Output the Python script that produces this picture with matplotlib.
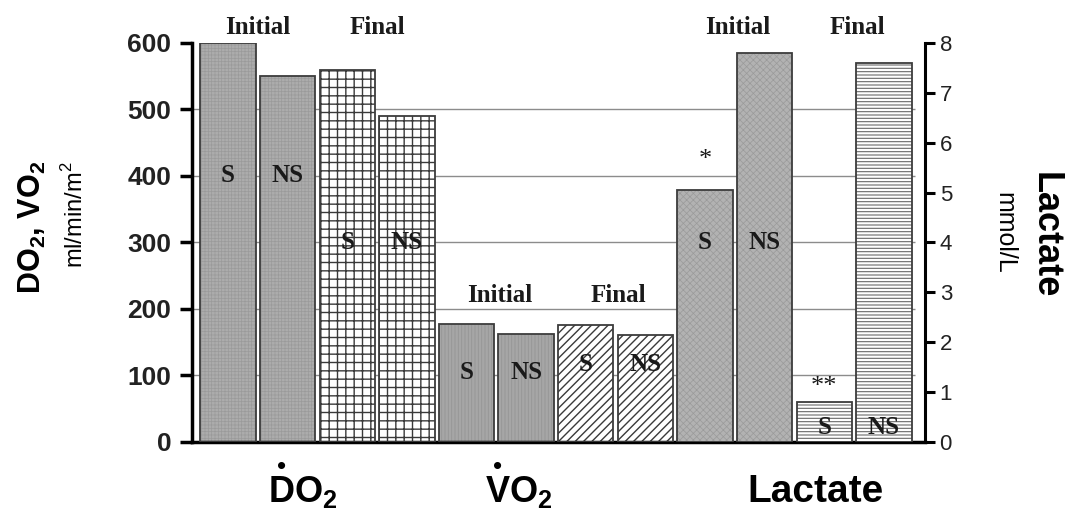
import matplotlib
matplotlib.use('Agg')
import matplotlib.pyplot as plt
from matplotlib.transforms import offset_copy
import numpy as np

plt.rcParams['font.family'] = 'Liberation Sans'
plt.rcParams['mathtext.fontset'] = 'custom'
plt.rcParams['mathtext.rm'] = 'Liberation Sans'
plt.rcParams['mathtext.bf'] = 'Liberation Sans:bold'

# values
# DO2 / VO2 on the left axis (ml/min/m2), lactate on the right axis (mmol/L)
# order in each: S initial, NS initial, S final, NS final
do2 = [600, 550, 560, 490]
vo2 = [177, 162, 176, 161]
lactate = [5.05, 7.8, 0.8, 7.6]
groups = ['S', 'NS', 'S', 'NS']
phases = ['Initial', 'Final']
stars = ['*', '', '**', '']

# where the in-bar labels sit (in each axis' own units)
do2_lab_y = [400, 400, 300, 300]
vo2_lab_y = [104, 104, 116, 116]
lac_lab_y = [4.0, 4.0, 0.3, 0.3]
star_y = [5.65, 0, 1.1, 0]
phase_y = [624, 220, 624]
phase_x_shift = [0.0, 0.05, 0.05]

x = np.arange(12)
xd, xv, xl = x[0:4], x[4:8], x[8:12]
W = 0.93

fig = plt.figure(figsize=(10.72, 5.23), dpi=100)
ax = fig.add_axes([0.1791, 0.1549, 0.6838, 0.7629])
ax.set_xlim(-0.604, 11.69)
ax.set_ylim(0, 600)
ax2 = ax.twinx()
ax2.set_ylim(0, 8)

# background reference lines
ax.hlines([100, 200, 300, 400, 500], ax.get_xlim()[0], x[-1] + 0.52,
          colors='#8c8c8c', lw=1.0, zorder=1)


def draw_bars(a, xs, hs, face, hatch, hcolor, hlw):
    plt.rcParams['hatch.linewidth'] = hlw
    a.bar(xs, hs, width=W, color=face, hatch=hatch, edgecolor=hcolor,
          linewidth=0, zorder=2)
    a.bar(xs, hs, width=W, fill=False, edgecolor='#3c3c3c', linewidth=1.3,
          zorder=3)


draw_bars(ax, xd[:2], do2[:2], '#acacac', '+++++', '#9a9a9a', 0.5)
draw_bars(ax, xd[2:], do2[2:], 'white', '++', '#3a3a3a', 1.0)
draw_bars(ax, xv[:2], vo2[:2], '#a6a6a6', '|||||', '#959595', 0.6)
draw_bars(ax, xv[2:], vo2[2:], 'white', '////', '#3a3a3a', 1.0)
draw_bars(ax2, xl[:2], lactate[:2], '#b2b2b2', 'xxxxx', '#9a9a9a', 0.5)
draw_bars(ax2, xl[2:], lactate[2:], 'white', '-----', '#6a6a6a', 0.8)

serif = dict(family='Liberation Serif', fontweight='bold', fontsize=18,
             ha='center', va='center', color='#1a1a1a', zorder=5)

for i in range(4):
    ax.text(xd[i], do2_lab_y[i], groups[i], **serif)
    ax.text(xv[i], vo2_lab_y[i], groups[i], **serif)
    ax2.text(xl[i], lac_lab_y[i], groups[i], **serif)
    if stars[i]:
        ax2.text(xl[i], star_y[i], stars[i], family='Liberation Serif',
                 fontsize=19, ha='center', va='center', color='#1a1a1a')

for k, xs in enumerate([xd, xv, xl]):
    for j, p in enumerate(phases):
        ax.text(xs[2 * j:2 * j + 2].mean() + phase_x_shift[k], phase_y[k], p,
                clip_on=False, **serif)

# axes styling
for s in ['top', 'right']:
    ax.spines[s].set_visible(False)
for s in ['top', 'left', 'bottom']:
    ax2.spines[s].set_visible(False)
ax.spines['left'].set_linewidth(2.5)
ax.spines['bottom'].set_linewidth(2.5)
ax2.spines['right'].set_linewidth(2.2)

ax.set_xticks([])
ax.set_yticks(np.arange(0, 601, 100))
ax.tick_params(axis='y', direction='out', length=9, width=2.5, pad=6,
               labelsize=19)
for t in ax.get_yticklabels():
    t.set_fontweight('bold')
    t.set_color('#222222')
ax2.set_yticks(np.arange(0, 9, 1))
ax2.tick_params(axis='y', direction='out', length=7.5, width=2.2, pad=3,
                labelsize=16, labelcolor='#222222')

# axis titles
fig.text(0.030, 0.565, r'DO$_\mathbf{2}$, VO$_\mathbf{2}$', rotation=90,
         fontsize=22, fontweight='bold', ha='center', va='center')
fig.text(0.070, 0.59, r'ml/min/m$^2$', rotation=90, fontsize=17,
         ha='center', va='center')
fig.text(0.975, 0.55, 'Lactate', rotation=270, fontsize=26,
         fontweight='bold', ha='center', va='center')
fig.text(0.937, 0.555, 'mmol/L', rotation=270, fontsize=18,
         ha='center', va='center')

# category names under the bars (dot over the first letter)
xt = ax.get_xaxis_transform()
cat_names = [r'DO$_\mathbf{2}$', r'VO$_\mathbf{2}$']
cat_left = [0.67, 4.31]
dot_off = [9.5, 8.8]
for cx, name, off in zip(cat_left, cat_names, dot_off):
    ax.text(cx, -0.125, name, transform=xt, fontsize=26, fontweight='bold',
            ha='left', va='center', clip_on=False)
    ax.text(cx, -0.062, '\u2022', fontsize=19, ha='center', va='center',
            transform=offset_copy(xt, fig=fig, x=off, units='points'),
            clip_on=False)
ax.text(9.85, -0.125, 'Lactate', transform=xt, fontsize=28,
        fontweight='bold', ha='center', va='center', clip_on=False)

fig.savefig('out.png', dpi=100)
